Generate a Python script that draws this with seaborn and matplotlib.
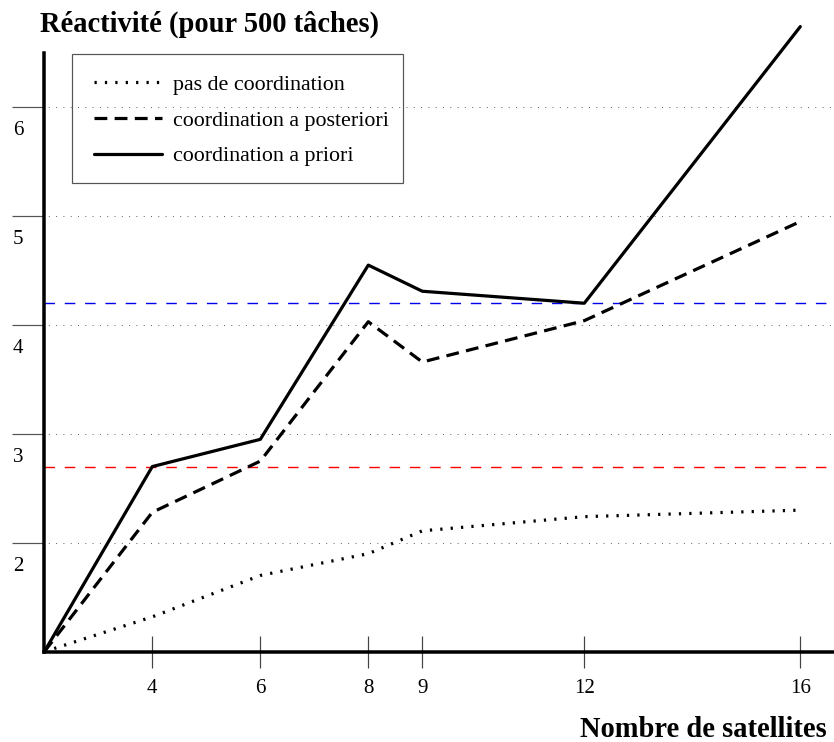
import numpy as np
import pandas as pd
import matplotlib
matplotlib.use("Agg")
import matplotlib.pyplot as plt
from matplotlib.patches import Rectangle
import seaborn as sns

# --- data ---
satellites = [2, 4, 6, 8, 9, 12, 16]
pas_de_coordination = [1.0, 1.32, 1.70, 1.90, 2.11, 2.24, 2.30]
coord_posteriori = [1.0, 2.28, 2.75, 4.03, 3.66, 4.04, 4.95]
coord_priori = [1.0, 2.70, 2.95, 4.55, 4.31, 4.20, 6.74]
x_ticks = [4, 6, 8, 9, 12, 16]
y_ticks = [2, 3, 4, 5, 6]
ref_red = 2.70   # a priori at 4 satellites
ref_blue = 4.20  # a priori at 12 satellites

series_labels = ["pas de coordination", "coordination a posteriori", "coordination a priori"]

sns.set_theme(style="white")
plt.rcParams["font.family"] = ["Liberation Serif", "DejaVu Serif"]
plt.rcParams["text.color"] = "black"
plt.rcParams["xtick.color"] = "black"
plt.rcParams["ytick.color"] = "black"

W, H, DPI = 834, 742, 72
fig = plt.figure(figsize=(W / DPI, H / DPI), dpi=DPI)

# axes placed in pixels: origin (44, 652), top of y axis at 53, right end 833
x0_px, y0_px, top_px, right_px = 44.3, 651.7, 53, 833
ax = fig.add_axes([x0_px / W, (H - y0_px) / H, (right_px - x0_px) / W, (y0_px - top_px) / H])

px_per_x = 54.0
px_per_y = 108.9
ax.set_xlim(2, 2 + (right_px - x0_px) / px_per_x)
ax.set_ylim(1, 1 + (y0_px - top_px) / px_per_y)

df = pd.DataFrame({
    "satellites": satellites * 3,
    "reactivite": pas_de_coordination + coord_posteriori + coord_priori,
    "serie": [series_labels[0]] * 7 + [series_labels[1]] * 7 + [series_labels[2]] * 7,
})

styles = {
    series_labels[0]: (0, (0.7, 2.55)),
    series_labels[1]: (0, (4, 2.3)),
    series_labels[2]: "-",
}
for name in series_labels:
    sub = df[df["serie"] == name]
    sns.lineplot(data=sub, x="satellites", y="reactivite", ax=ax, color="black",
                 linewidth=3.2, linestyle=styles[name], label=name,
                 clip_on=False, zorder=5)

# reference lines
ax.axhline(ref_blue, color="#0000ee", lw=1.4, linestyle=(0, (7.5, 7)), zorder=2)
ax.axhline(ref_red, color="#ff0000", lw=1.4, linestyle=(0, (7.5, 7)), zorder=2)

# dotted grey grid
for v in y_ticks:
    ax.axhline(v, color="#666666", lw=1, linestyle=(3, (1, 6.3)), zorder=1)

# spines
for s in ["top", "right"]:
    ax.spines[s].set_visible(False)
for s in ["left", "bottom"]:
    ax.spines[s].set_linewidth(3.5)
    ax.spines[s].set_color("black")
    ax.spines[s].set_zorder(6)

ax.set_xticks(x_ticks)
ax.set_xticklabels([str(t) for t in x_ticks])
ax.tick_params(axis="x", direction="inout", length=32, width=1.2, color="#444444",
               labelsize=21, labelcolor="black", pad=11, bottom=True)
ax.set_yticks(y_ticks)
ax.tick_params(axis="y", direction="out", length=32, width=1.2, color="#555555",
               labelleft=False, left=True)
for v in y_ticks:
    ax.annotate(str(v), xy=(0, v), xycoords=("axes fraction", "data"),
                xytext=(-26.3, -28), textcoords="offset points",
                ha="center", va="baseline", fontsize=21, color="black")

ax.set_xlabel("")
ax.set_ylabel("")

# legend without frame, plus a plain box drawn around it
leg = ax.legend(loc="upper left", bbox_to_anchor=(94 / W, 1 - 74.5 / H),
                bbox_transform=fig.transFigure, frameon=False, fontsize=22,
                handlelength=3.1, handletextpad=0.5, labelspacing=0.7,
                borderpad=0, borderaxespad=0)
for line in leg.get_lines():
    line.set_linewidth(3.2)
for t in leg.get_texts():
    t.set_color("black")
box = Rectangle((71.7 / W, 1 - 182.7 / H), (403 - 71.7) / W, (182.7 - 54) / H,
                transform=fig.transFigure, fill=False, edgecolor="#555555", lw=1.2)
fig.add_artist(box)

fig.text(40 / W, 1 - 32 / H, "Réactivité (pour 500 tâches)", fontsize=28.5,
         fontweight="bold", ha="left", va="baseline", color="black")
fig.text(827 / W, 1 - 736.7 / H, "Nombre de satellites", fontsize=28.5,
         fontweight="bold", ha="right", va="baseline", color="black")

fig.savefig("out.png", dpi=DPI)
